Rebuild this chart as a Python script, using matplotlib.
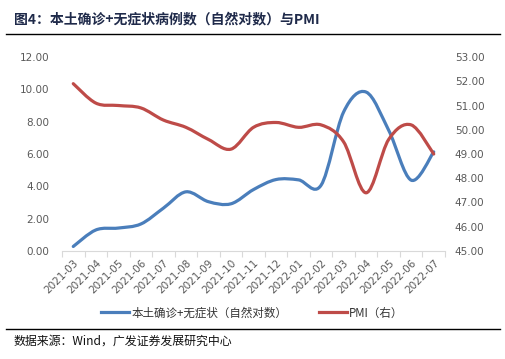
import numpy as np
import matplotlib
matplotlib.use("Agg")
import matplotlib.pyplot as plt
from matplotlib.path import Path
from matplotlib.patches import PathPatch
from matplotlib.lines import Line2D

plt.rcParams['font.family'] = ['Noto Sans CJK SC', 'DejaVu Sans']

months = ["2021-03", "2021-04", "2021-05", "2021-06", "2021-07", "2021-08", "2021-09",
          "2021-10", "2021-11", "2021-12", "2022-01", "2022-02", "2022-03", "2022-04",
          "2022-05", "2022-06", "2022-07"]
cases_ln = [0.28, 1.30, 1.42, 1.67, 2.65, 3.66, 3.05, 2.92, 3.80, 4.42, 4.40, 4.07,
            8.60, 9.83, 7.47, 4.38, 6.13]
pmi = [51.9, 51.1, 51.0, 50.9, 50.4, 50.1, 49.6, 49.2, 50.1, 50.3, 50.1, 50.2,
       49.5, 47.4, 49.6, 50.2, 49.0]
left_ticks = [0, 2, 4, 6, 8, 10, 12]
right_ticks = [45, 46, 47, 48, 49, 50, 51, 52, 53]

BLUE = "#4A7EBB"
RED = "#BE4B48"
GRAY = "#595959"


def smooth_path(xs, ys):
    P = np.column_stack([xs, ys]).astype(float)
    n = len(P)
    verts = [P[0]]
    codes = [Path.MOVETO]
    for i in range(n - 1):
        p0 = P[i - 1] if i > 0 else P[i]
        p1 = P[i]
        p2 = P[i + 1]
        p3 = P[i + 2] if i + 2 < n else P[i + 1]
        c1 = p1 + (p2 - p0) / 6.0
        c2 = p2 - (p3 - p1) / 6.0
        verts += [c1, c2, p2]
        codes += [Path.CURVE4] * 3
    return Path(verts, codes)


fig = plt.figure(figsize=(5.05, 3.59), dpi=100)
ax = fig.add_axes([62 / 505, 1 - 251 / 359, (445 - 62) / 505, (251 - 57) / 359])
ax2 = ax.twinx()

x = np.arange(len(months))
ax.add_patch(PathPatch(smooth_path(x, cases_ln), fill=False, edgecolor=BLUE, lw=2.3,
                       capstyle='round', joinstyle='round'))
ax2.add_patch(PathPatch(smooth_path(x, pmi), fill=False, edgecolor=RED, lw=2.3,
                        capstyle='round', joinstyle='round'))

ax.set_xlim(-0.5, len(months) - 0.5)
ax.set_ylim(0, 12)
ax2.set_ylim(45, 53)
ax.set_yticks(left_ticks)
ax.set_yticklabels([f"{v:.2f}" for v in left_ticks])
ax2.set_yticks(right_ticks)
ax2.set_yticklabels([f"{v:.2f}" for v in right_ticks])

ax.set_xticks(x)
ax.set_xticklabels(months, rotation=45, ha='right', rotation_mode='anchor',
                   fontsize=7.5, color=GRAY, family='DejaVu Sans')
ax.set_xticks(np.arange(-0.5, len(months), 1.0), minor=True)
ax.tick_params(axis='x', which='major', length=0, pad=5)
ax.tick_params(axis='x', which='minor', length=4, color='#D9D9D9', width=0.8)
ax.tick_params(axis='y', length=0, labelsize=7.5, labelcolor=GRAY, pad=9)
ax2.tick_params(axis='y', length=0, labelsize=7.5, labelcolor=GRAY, pad=7)
for lab in ax.get_yticklabels() + ax2.get_yticklabels():
    lab.set_family('DejaVu Sans')

for a in (ax, ax2):
    for s in a.spines.values():
        s.set_visible(False)
ax.spines['bottom'].set_visible(True)
ax.spines['bottom'].set_color('#D9D9D9')
ax.spines['bottom'].set_linewidth(0.8)

handles = [Line2D([], [], color=BLUE, lw=2.3), Line2D([], [], color=RED, lw=2.3)]
fig.legend(handles, ["本土确诊+无症状（自然对数）", "PMI（右）"], loc='center',
           bbox_to_anchor=(0.5, 1 - 313 / 359), ncol=2, frameon=False, fontsize=8.3,
           handlelength=2.4, handletextpad=0.2, columnspacing=2.8, labelcolor='#333333')

fig.text(14 / 505, 1 - 19 / 359, "图4：本土确诊+无症状病例数（自然对数）与PMI",
         fontsize=10, fontweight='bold', color='#1F2A4A', va='center', ha='left')
fig.add_artist(Line2D([6 / 505, 500 / 505], [1 - 34 / 359, 1 - 34 / 359], color='black', lw=1.0))
fig.add_artist(Line2D([6 / 505, 500 / 505], [1 - 329 / 359, 1 - 329 / 359], color='black', lw=1.0))
fig.text(14 / 505, 1 - 341 / 359, "数据来源：Wind，广发证券发展研究中心",
         fontsize=8.6, color='#111111', va='center', ha='left')

fig.savefig("out.png", dpi=100)
